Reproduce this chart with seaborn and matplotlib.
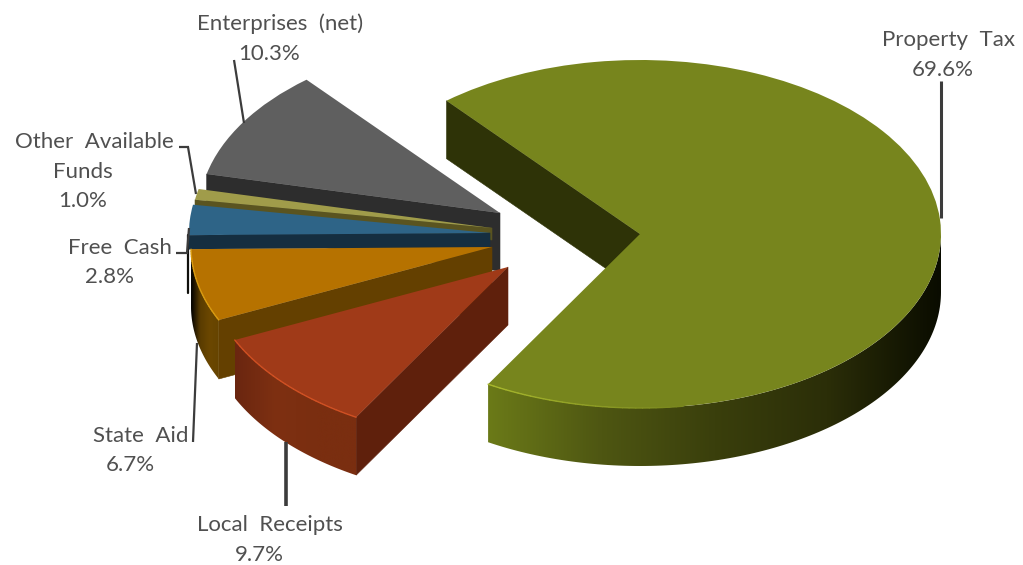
import numpy as np
import matplotlib
matplotlib.use("Agg")
import matplotlib.pyplot as plt
from matplotlib.colors import LinearSegmentedColormap, to_rgb
import seaborn as sns

# Revenue shares, clockwise from the large slice
sources = ["Property Tax", "Local Receipts", "State Aid", "Free Cash", "Other Available Funds", "Enterprises (net)"]
shares = [69.6, 9.7, 6.7, 2.8, 1.0, 10.3]

top_colors = ["#77851d", "#a03a18", "#b67200", "#2e6487", "#a09c4a", "#5f5f5f"]
wall_colors = ["#2e3307", "#5f200c", "#644000", "#152e40", "#5a5420", "#2d2d2d"]
rim_stops = [
    ["#6b7a18", "#4e5612", "#3a3f0c", "#2b2e08", "#0a0c00"],
    ["#6a2610", "#7e3012", "#7a2e10", "#7a2e10"],
    ["#000000", "#5a3c00", "#6b4700", "#664400"],
    ["#0d1c28", "#152e40"],
    ["#3a3612", "#5a5420"],
    ["#1c1c1c", "#2d2d2d"],
]
highlights = ["#a8b82c", "#cf4f22", "#d89a10", None, None, None]
highlight_span = [0.32, 1.0, 1.0, 0, 0, 0]

# Pixel layout of the canvas and of each slice's apex
W, H = 1023, 565
RX, RY = 301.0, 174.0
apex_x = [640, 508, 492, 490, 492, 500]
apex_y = [234, 267, 247, 233, 228, 213]
depth_px = [58, 58, 59, 14, 12, 58]

sns.set_theme(style="white")
plt.rcParams["font.family"] = ["Lato", "DejaVu Sans"]
palette = sns.color_palette(top_colors)

fig, ax = plt.subplots(figsize=(W / 100, H / 100), dpi=100)
fig.subplots_adjust(0, 0, 1, 1)


def dx(px):
    return (px - 640) / RX


def dy(py):
    return (234 - py) / RY


wedges, _ = ax.pie(shares, startangle=130, counterclock=False, colors=palette,
                   wedgeprops=dict(linewidth=0))


def on_rim(cx, cy, deg):
    a = np.radians(deg)
    return cx + np.cos(a), cy + np.sin(a)


# Slices drawn back to front so the nearer ones overlap the ones behind
order = [5, 4, 3, 2, 1, 0]
for rank, i in enumerate(order):
    w = wedges[i]
    z = 2 + rank * 5
    cx, cy = dx(apex_x[i]), dy(apex_y[i])
    depth = depth_px[i] / RY
    w.set_center((cx, cy))
    w.set_zorder(z + 3)

    # Flat cut face along the slice's lower straight edge
    rx, ry = on_rim(cx, cy, w.theta2)
    ax.fill([cx, rx, rx, cx], [cy, ry, ry - depth, cy - depth],
            color=wall_colors[i], lw=0.4, zorder=z)

    # Curved outer wall, a horizontal gradient clipped to the visible arc
    lo, hi = w.theta1, w.theta2
    vis_lo = max(lo, -180 if lo < 0 else 180)
    vis_hi = min(hi, 0 if lo < 0 else 360)
    if vis_hi > vis_lo:
        cmap = LinearSegmentedColormap.from_list(f"rim{i}", rim_stops[i])
        arc = np.radians(np.linspace(vis_lo, vis_hi, 120))
        ax_, ay_ = cx + np.cos(arc), cy + np.sin(arc)
        outline = ax.fill(np.r_[ax_, ax_[::-1]], np.r_[ay_, ay_[::-1] - depth],
                          facecolor="none", edgecolor="none", zorder=z + 1)[0]
        ramp = np.linspace(0, 1, 256)[None, :]
        im = ax.imshow(ramp, cmap=cmap, aspect="auto", zorder=z + 1,
                       extent=(ax_.min(), ax_.max(), ay_.min() - depth, ay_.max()))
        im.set_clip_path(outline)

    # Thin bright bevel along the front of the top face, fading out on the large slice
    if highlights[i]:
        end = vis_lo + (vis_hi - vis_lo) * highlight_span[i]
        steps = np.linspace(vis_lo, end, 31)
        bright, base = np.array(to_rgb(highlights[i])), np.array(to_rgb(top_colors[i]))
        for k, (a0, a1) in enumerate(zip(steps[:-1], steps[1:])):
            mix = k / 30 if i == 0 else 0.0
            seg = np.radians([a0, a1])
            ax.plot(cx + np.cos(seg), cy + np.sin(seg), color=bright * (1 - mix) + base * mix,
                    lw=1.0, zorder=z + 4, solid_capstyle="round")

ax.set_aspect("auto")
ax.set_xlim(dx(0), dx(W))
ax.set_ylim(dy(H), dy(0))

# Dark vertical sliver where the blue slice's wall shows past the orange one
fc = 3
ax.plot([dx(apex_x[fc] - RX - 1.5)] * 2, [dy(apex_y[fc] + 2), dy(apex_y[fc] + 60)],
        color="#10100c", lw=1.6, zorder=3)

# Leader lines, in canvas pixels
leaders = [
    ([941, 941], [81, 218], 2.2),
    ([234, 244], [60, 123], 1.6),
    ([179, 188, 196], [147, 147, 194], 1.6),
    ([176, 187, 189], [253, 253, 228], 1.6),
    ([193, 197], [442, 343], 1.6),
    ([286, 286], [442, 506], 2.6),
]
for xs, ys, lw in leaders:
    ax.plot([dx(x) for x in xs], [dy(y) for y in ys], color="#3c3c3c", lw=lw,
            zorder=60, solid_joinstyle="miter", solid_capstyle="butt")

# Category names and percentages
label_lines = [
    (["Property  Tax"], [(948, 40)], (943, 70)),
    (["Local  Receipts"], [(270, 525)], (259, 555)),
    (["State  Aid"], [(141, 436)], (130, 465)),
    (["Free  Cash"], [(120, 248)], (109, 277)),
    (["Other  Available", "Funds"], [(94, 142), (83, 172)], (83, 201)),
    (["Enterprises  (net)"], [(280, 24)], (269, 54)),
]
for share, (names, name_pos, pct_pos) in zip(shares, label_lines):
    for name, (x, y) in zip(names, name_pos):
        ax.text(dx(x), dy(y), name, ha="center", va="center", fontsize=16,
                color="#505050", zorder=70)
    ax.text(dx(pct_pos[0]), dy(pct_pos[1]), f"{share:.1f}%", ha="center", va="center",
            fontsize=16, color="#505050", zorder=70)

fig.savefig("out.png", dpi=100)
